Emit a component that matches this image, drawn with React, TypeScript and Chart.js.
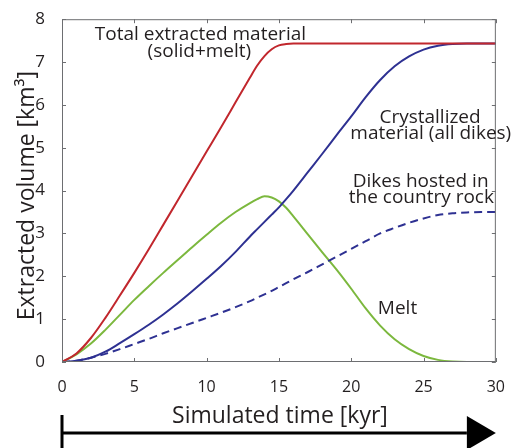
import React, { useEffect, useRef } from "react";
import { Chart, registerables } from "chart.js";

Chart.register(...registerables);

// Simulated time [kyr]
const time = [0, 1, 2, 3, 4, 5, 6, 7, 8, 9, 10, 11, 12, 13, 13.5, 14, 14.5, 15, 15.5, 16, 17, 18, 19, 20, 21, 22, 23, 24, 25, 26, 27, 28, 29, 30];

// Total extracted material (solid+melt) [km3]
const totalExtracted = [0, 0.2, 0.56, 1.03, 1.55, 2.08, 2.63, 3.2, 3.77, 4.34, 4.91, 5.48, 6.06, 6.64, 6.92, 7.14, 7.3, 7.39, 7.42, 7.43, 7.43, 7.43, 7.43, 7.43, 7.43, 7.43, 7.43, 7.43, 7.43, 7.43, 7.43, 7.43, 7.43, 7.43];

// Melt [km3]
const melt = [0, 0.18, 0.43, 0.75, 1.1, 1.45, 1.77, 2.08, 2.38, 2.68, 2.97, 3.25, 3.5, 3.71, 3.8, 3.87, 3.84, 3.75, 3.6, 3.4, 2.98, 2.56, 2.15, 1.71, 1.25, 0.85, 0.53, 0.3, 0.14, 0.05, 0.01, 0, 0, 0];

// Crystallized material (all dikes) [km3]
const crystallized = [0, 0.03, 0.1, 0.24, 0.44, 0.65, 0.87, 1.11, 1.37, 1.65, 1.94, 2.24, 2.57, 2.93, 3.1, 3.27, 3.44, 3.61, 3.8, 4.0, 4.43, 4.86, 5.3, 5.73, 6.18, 6.58, 6.9, 7.13, 7.29, 7.38, 7.42, 7.43, 7.43, 7.43];

// Dikes hosted in the country rock [km3]
const hostedDikes = [0, 0.03, 0.1, 0.19, 0.3, 0.42, 0.54, 0.67, 0.79, 0.91, 1.03, 1.15, 1.28, 1.42, 1.5, 1.58, 1.66, 1.75, 1.84, 1.93, 2.1, 2.28, 2.46, 2.64, 2.82, 3.0, 3.13, 3.25, 3.35, 3.43, 3.47, 3.49, 3.5, 3.5];

const xTicks = [0, 5, 10, 15, 20, 25, 30];
const yTicks = [0, 1, 2, 3, 4, 5, 6, 7, 8];

const xTitle = "Simulated time [kyr]";
const yTitle = "Extracted volume [km\u00B3]";

// Annotation texts anchored in data coordinates: [text, x (kyr), y (km3)]
const annotations: [string, number, number][] = [
  ["Total extracted material", 9.57, 7.52],
  ["(solid+melt)", 9.5, 7.12],
  ["Crystallized", 25.45, 5.58],
  ["material (all dikes)", 25.5, 5.2],
  ["Dikes hosted in", 24.8, 4.08],
  ["the country rock", 24.85, 3.72],
  ["Melt", 23.2, 1.13],
];

const FONT = "'Open Sans', Lato, sans-serif";
const TEXT = "#231f20";
const FRAME = "#6d6e71";

const mk = (arr: number[]) => arr.map((v, i) => ({ x: time[i], y: v }));

const decorPlugin = {
  id: "decor",
  afterDraw(chart: any) {
    const { ctx, chartArea, scales } = chart;
    const xs = scales.x;
    const ys = scales.y;
    const { left, right, top, bottom } = chartArea;
    ctx.save();
    // frame
    ctx.strokeStyle = FRAME;
    ctx.lineWidth = 1;
    ctx.strokeRect(left + 0.5, top + 0.5, right - left - 1, bottom - top - 1);
    // inward ticks
    const tl = 4;
    ctx.beginPath();
    xTicks.forEach((v) => {
      const px = Math.round(xs.getPixelForValue(v)) + 0.5;
      ctx.moveTo(px, bottom);
      ctx.lineTo(px, bottom - tl);
      ctx.moveTo(px, top);
      ctx.lineTo(px, top + tl);
    });
    yTicks.forEach((v) => {
      const py = Math.round(ys.getPixelForValue(v)) + 0.5;
      ctx.moveTo(left, py);
      ctx.lineTo(left + tl, py);
      ctx.moveTo(right, py);
      ctx.lineTo(right - tl, py);
    });
    ctx.stroke();

    // annotations
    ctx.fillStyle = TEXT;
    ctx.font = `19px ${FONT}`;
    ctx.textAlign = "center";
    ctx.textBaseline = "alphabetic";
    annotations.forEach(([t, x, y]) => {
      ctx.fillText(t, xs.getPixelForValue(x), ys.getPixelForValue(y));
    });

    // axis titles
    ctx.font = `23px ${FONT}`;
    ctx.fillText(xTitle, (left + right) / 2 + 1, bottom + 61);
    ctx.save();
    ctx.translate(34, (top + bottom) / 2 + 5);
    ctx.rotate(-Math.PI / 2);
    ctx.fillText(yTitle, 0, 0);
    ctx.restore();

    // time arrow
    const ay = bottom + 71;
    const headBase = right - 29;
    ctx.strokeStyle = "#000";
    ctx.fillStyle = "#000";
    ctx.lineWidth = 3;
    ctx.beginPath();
    ctx.moveTo(left, ay);
    ctx.lineTo(headBase, ay);
    ctx.moveTo(left, ay - 18);
    ctx.lineTo(left, ay + 20);
    ctx.stroke();
    ctx.beginPath();
    ctx.moveTo(headBase, ay - 17);
    ctx.lineTo(right, ay);
    ctx.lineTo(headBase, ay + 17);
    ctx.closePath();
    ctx.fill();
    ctx.restore();
  },
};

export default function App() {
  const ref = useRef<HTMLCanvasElement>(null);
  useEffect(() => {
    const common = { pointRadius: 0, borderWidth: 2, cubicInterpolationMode: "monotone" as const, fill: false };
    const chart = new Chart(ref.current!, {
      type: "line",
      data: {
        datasets: [
          { label: "Total extracted material", data: mk(totalExtracted), borderColor: "#c1272d", ...common },
          { label: "Crystallized material", data: mk(crystallized), borderColor: "#2e3192", ...common },
          { label: "Dikes hosted in the country rock", data: mk(hostedDikes), borderColor: "#2e3192", borderDash: [8, 5], ...common },
          { label: "Melt", data: mk(melt), borderColor: "#7cb83e", ...common },
        ],
      },
      options: {
        responsive: false,
        animation: false,
        devicePixelRatio: 1,
        layout: { padding: { top: 17, right: 14, left: 0, bottom: 0 } },
        plugins: { legend: { display: false }, tooltip: { enabled: false } },
        scales: {
          x: {
            type: "linear",
            min: 0,
            max: 30,
            grid: { display: false },
            border: { display: false },
            ticks: { stepSize: 5, color: TEXT, font: { family: FONT, size: 16 }, padding: 8, maxRotation: 0 },
            afterFit: (s: any) => {
              s.height = 86;
            },
          },
          y: {
            min: 0,
            max: 8,
            grid: { display: false },
            border: { display: false },
            ticks: { stepSize: 1, color: TEXT, font: { family: FONT, size: 17 }, padding: 9 },
            afterFit: (s: any) => {
              s.width = 62;
            },
          },
        },
      },
      plugins: [decorPlugin],
    });
    return () => chart.destroy();
  }, []);
  return (
    <div style={{ position: "absolute", left: 0, top: 0, width: 513, height: 448, background: "#fff" }}>
      <canvas ref={ref} width={513} height={448} style={{ display: "block" }} />
    </div>
  );
}
